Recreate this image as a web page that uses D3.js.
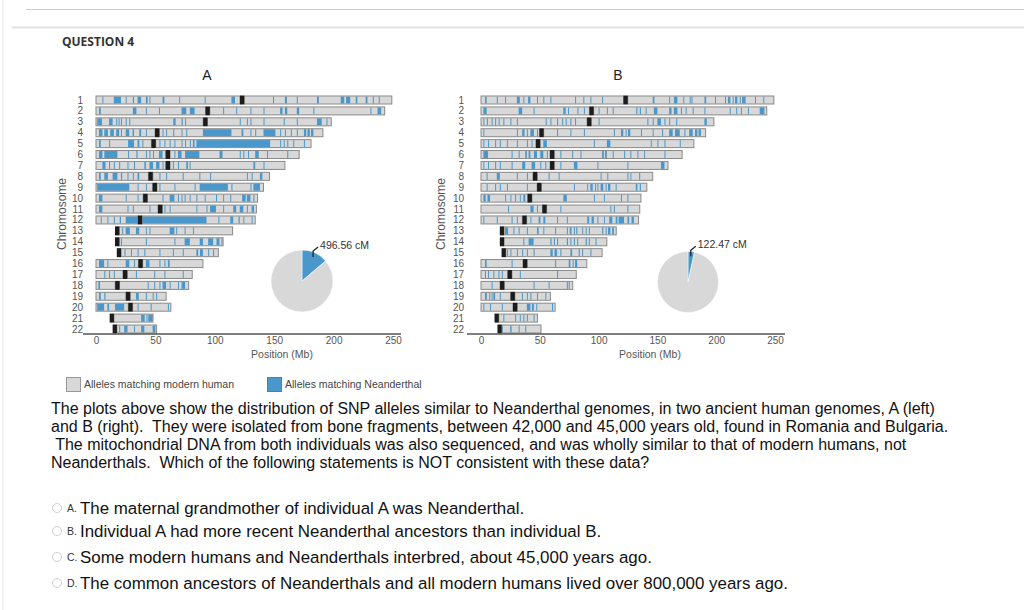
<!DOCTYPE html>
<html>
<head>
<meta charset="utf-8">
<script src="https://cdn.jsdelivr.net/npm/d3@7"></script>
<style>
  body { margin: 0; background: #fff; }
  svg { display: block; font-family: "Liberation Sans", Arial, sans-serif; }
</style>
</head>
<body>
<div id="chart"></div>
<script>
// chromosome layout, in Mb
var chromNames = ["1","2","3","4","5","6","7","8","9","10","11","12","13","14","15","16","17","18","19","20","21","22"];
var chromLengths = [249,243,198,191,181,171,159,146,141,136,135,134,115,107,103,90,81,78,59,63,48,51];
var chromStarts = [0,0,0,0,0,0,0,0,0,0,0,0,16,16,17.5,0,0,0,0,0,11.5,14];
var centromeres = [123,94,92,51.5,48.5,60.5,60.5,46,49.5,41.5,54,37,17.8,17.8,19.3,37.5,24.5,18,27,29,13.3,15.8];

// Neanderthal-matching segments (single number = thin stripe, pair = block)
var segmentsA = [
  [5.4,[15,21],25,[31,32],[35,38],[42,43.5],45,[56,57.6],70,91.5,[114,117],149,[159,160.7],169,[186,187.6],[206,209],[210.5,214],[218.6,220],[227,228.5],233,238],
  [[2.5,4],[31,34],42,53,[72,76],[79,83],107,118,130,141,[155,157],[159,161],[169,171],183,231,[237,240]],
  [[1,5],[11,14],17,19,21,25,28,[65,67],[72,73],75,121,127,130,141,158,169,[186,190],194],
  [[2.5,5.4],[7,10],[12,15],[17,19.5],21,[25,28],[30.8,32],[36.4,38],42,56,59,65,72,76,[90,114],[122.5,124],130,134,[141,151],155,159,164,169,[175,177],[178,180],[181,183]],
  [[2.5,4],11,[27,32],[35,36.5],39,53.4,57.6,62,66,72,75,79,[81.6,83],[84.5,146.6],155,158,161,166,175],
  [[2.5,5.4],[7,18],27,[34,35],42,45,48,[53,56],66,[69,72],[75,87],[104,106.5],121,124,128,[134,137],144,161],
  [[5.4,8],11,15,19.5,26.5,32,[40.7,42],[45,48],[50.6,53.4],56,64.7,69,[76,77.4],78.8,[132.5,134],141],
  [[2.5,4],[7,10],[14,18],[21,22],26.5,31,[35,36.4],53.4,59,73,87,96,127,131,[138,140]],
  [[1,28],35,42,53.4,66,83,[87.3,111],114,130,[132.5,138]],
  [[2.5,5.4],25,35,56,[62,66],69,72,74.6,78.8,84.5,91.5,101,107,113,[123,126],[127,130],132.5],
  [[2.5,5.4],26.5,31,45,57.6,62,84.5,93,[96,101],107,[115.5,118],[121,124],127,[131,133]],
  [4,9.6,15,[20,21],[25,35],[38.7,93],103,[113,115.5],[120,121],124,131],
  [22,[25,28.5],[33.6,36.4],42,45,[62,66],67.5,74.6,81.6],
  [21,42,66,[74.6,79],[87.3,90],[94.4,98.6],[101.4,104],105.6],
  [24,29.4,35,40.7,53.4,64.7,73,[84.5,86],[87.5,90],94.4,98.6],
  [[2.5,6.8],9.6,[25,28],32,[42,45],53.4,57.6,[60.5,62]],
  [7,11,15,33.6,49,57.6,73],
  [[2,3.4],43.5,49,53.4,[56,59],62,69,[72,75]],
  [[2.5,4],[7,8],[33.6,36],42,47.7,50.6],
  [[1,6.8],[9.6,11],[16,23.7],35,46,60.5],
  [[38,41],42.5,[44,47.7]],
  [19.5,[23.7,26.5],32,[38,40.7],[47.7,50]]
];
var segmentsB = [
  [[3.4,4.8],13.4,20.5,[30.5,33],36,[40,42],47.6,53,59,80,87,93,103,[146,147.5],160,[164,167],172,177.5,179,[190,191.5],199,207.5,[210,212],214,[216,218],220,[222,225],233,240],
  [[2,4.8],[32,35],44.7,[70,72],74,82,87.5,100,107,112,[132,133],[135,136],140,[147,150],[160,162],[164,167],170,174,180,190,211.5,217,221,227,[237,241]],
  [2,5,9,12,15,19,25,30.5,55,59,64.7,69,72,76,80,100,141.5,146,[150,153],156,160,166,[190,192]],
  [2,30.5,[35,37],39,[42,45],47.6,64.7,76,87.5,113,[119,121],123,[125,127],136,146,154,[160,163],[165,169],173,[177,180],[182,184],[185,187]],
  [2,6,12,16,22,30.5,39,43,[53,56],96,[107,110],144.4,150,156,169],
  [[2,6],26,32,[37.6,39],[40.5,42],[45,47.6],[50.4,53],56,67.5,77.5,84.6,[103,104.5],[105.5,107],112,121.7,127,133,138.7,156],
  [2,6,12,16,26,[35,37.6],[43,46],50.4,54.7,67.5,[79,82],99,124.5,[153,156]],
  [4.8,[13.4,16],30.5,39,57.5,66,101.7,107.4,124.5,127,134.5],
  [4.8,12,16,22,39,79,90.3,[93,95],97,99,[101.7,104],106,[108,110],114.5,[131.6,133],[135,136]],
  [[2,4],[5.5,7.7],20.5,25,29,33,[36,37.6],[70,73],96,104.5,119,124.5],
  [23,[42,44.7],47.6,67.5,110,113,124.5],
  [2,13.4,26,30.5,42,[49,50.5],[53,54.7],64.7,73,[90.3,92],[94,96],99,104.5,[109,111.7],[114.5,116],[117,121.7],[124.5,126],[128,130]],
  [[20.5,23],27.6,32,39,[47.6,49],53,63,73,[75.5,77],79,[81,82],86,89,91.7,[103,104],106,[108,110],[111.5,113]],
  [36,[40.5,44.7],[59,60],62,64.7,[73,74],76,79,81.8,[89,90],91.7,97.4],
  [22,25,30.5,35,39,44.7,[59,61],[62.5,64.7],67.5,[76,77.5],[83,84],86,93],
  [[3.4,4.8],26,63,[74.6,76],78,[80,81.8]],
  [3.4,6,10.5,14.8,17.7,33,64.7],
  [9,44.7,57.5,73,74.6],
  [[3.4,5],7,9,[10.5,12],16,34.8,39,42,47.6,54.7],
  [2,7.7,17.7,[39,42],[43.3,45],47,60.4],
  [19,29,33,36,39,44.7],
  [17.7,[24.8,26],32,37.6]
];

// genome share in cM: [Neanderthal, modern human]
var pieA = [496.56, 3100];
var pieB = [122.47, 3474];
var pieLabels = ["496.56 cM", "122.47 cM"];

var xTicks = [0, 50, 100, 150, 200, 250];
var legendLabels = ["Alleles matching modern human", "Alleles matching Neanderthal"];
var paragraph = [
  "The plots above show the distribution of SNP alleles similar to Neanderthal genomes, in two ancient human genomes, A (left)",
  "and B (right).  They were isolated from bone fragments, between 42,000 and 45,000 years old, found in Romania and Bulgaria.",
  " The mitochondrial DNA from both individuals was also sequenced, and was wholly similar to that of modern humans, not",
  "Neanderthals.  Which of the following statements is NOT consistent with these data?"
];
var answerLetters = ["A.", "B.", "C.", "D."];
var answers = [
  "The maternal grandmother of individual A was Neanderthal.",
  "Individual A had more recent Neanderthal ancestors than individual B.",
  "Some modern humans and Neanderthals interbred, about 45,000 years ago.",
  "The common ancestors of Neanderthals and all modern humans lived over 800,000 years ago."
];

var blue = "#4a98cb", grey = "#d8d8d8";

var svg = d3.select("#chart").append("svg")
  .attr("width", 1024).attr("height", 610);

// page frame lines
svg.append("line").attr("x1", 3).attr("x2", 3).attr("y1", 0).attr("y2", 610)
  .attr("stroke", "#eee").attr("stroke-width", 1.5);
svg.append("line").attr("x1", 26).attr("x2", 1024).attr("y1", 9.5).attr("y2", 9.5)
  .attr("stroke", "#ccc").attr("stroke-width", 1);
svg.append("line").attr("x1", 12).attr("x2", 1024).attr("y1", 27.5).attr("y2", 27.5)
  .attr("stroke", "#e2e2e2").attr("stroke-width", 2);

svg.append("text").attr("x", 62).attr("y", 46)
  .style("font-family", "'Open Sans', sans-serif").style("font-weight", 700)
  .style("font-size", "12px").attr("fill", "#333").text("QUESTION 4");

var yPos = d3.scalePoint().domain(chromNames).range([100, 329]);
var barH = 8;

function drawPanel(opt) {
  var g = svg.append("g");
  var x = d3.scaleLinear().domain([0, 250]).range(opt.range);

  g.append("text").attr("x", opt.titleX).attr("y", 80).attr("text-anchor", "middle")
    .style("font-size", "14px").attr("fill", "#222").text(opt.title);

  g.append("text")
    .attr("transform", "translate(" + opt.ylabX + ",214) rotate(-90)")
    .attr("text-anchor", "middle").style("font-size", "12px").attr("fill", "#555")
    .text("Chromosome");

  g.selectAll(".num").data(chromNames).enter().append("text")
    .attr("x", opt.numX).attr("y", function(d) { return yPos(d) + 3.5; })
    .attr("text-anchor", "end").style("font-size", "10px").attr("fill", "#555")
    .text(function(d) { return d; });

  var rows = g.selectAll(".chrom").data(chromNames).enter().append("g")
    .attr("transform", function(d) { return "translate(0," + (yPos(d) - barH / 2) + ")"; });

  rows.each(function(name, i) {
    var row = d3.select(this);
    var c0 = centromeres[i] - 1.8, c1 = centromeres[i] + 1.8;
    var arms = [];
    if (c0 - chromStarts[i] > 1) arms.push([chromStarts[i], c0]);
    arms.push([c1, chromLengths[i]]);
    row.selectAll(".arm").data(arms).enter().append("rect")
      .attr("x", function(a) { return x(a[0]); })
      .attr("width", function(a) { return x(a[1]) - x(a[0]); })
      .attr("y", 0).attr("height", barH).attr("fill", grey);
    var segs = opt.segs[i].map(function(s) { return typeof s === "number" ? [s, s + 0.7] : s; });
    row.selectAll(".seg").data(segs).enter().append("rect")
      .attr("x", function(s) { return x(s[0]); })
      .attr("width", function(s) { return Math.max(1, x(s[1]) - x(s[0])); })
      .attr("y", 0.5).attr("height", barH - 1).attr("fill", blue);
    row.selectAll(".armline").data(arms).enter().append("rect")
      .attr("x", function(a) { return x(a[0]); })
      .attr("width", function(a) { return x(a[1]) - x(a[0]); })
      .attr("y", 0).attr("height", barH).attr("fill", "none")
      .attr("stroke", "#8a8a8a").attr("stroke-width", 1);
    row.append("rect").attr("x", x(c0)).attr("width", x(c1) - x(c0))
      .attr("y", -0.5).attr("height", barH + 1).attr("fill", "#1c1c1c");
  });

  // x axis
  g.append("line").attr("x1", opt.axisFrom).attr("x2", opt.axisTo)
    .attr("y1", 334).attr("y2", 334).attr("stroke", "#555").attr("stroke-width", 1.4);
  var axis = g.append("g").attr("transform", "translate(0,334)")
    .call(d3.axisBottom(x).tickValues(xTicks).tickSize(0).tickPadding(3));
  axis.select(".domain").remove();
  axis.selectAll("text").style("font-size", "10px").attr("fill", "#555")
    .style("font-family", "'Liberation Sans', Arial, sans-serif");
  g.append("text").attr("x", opt.xlabX).attr("y", 358).attr("text-anchor", "middle")
    .style("font-size", "10.5px").attr("fill", "#555").text("Position (Mb)");

  // pie of genome share
  var pie = d3.pie().sort(null)(opt.pie);
  var arc = d3.arc().innerRadius(0).outerRadius(opt.r);
  var pg = g.append("g").attr("transform", "translate(" + opt.cx + "," + opt.cy + ")");
  pg.selectAll("path").data(pie).enter().append("path")
    .attr("d", arc).attr("fill", function(d, i) { return i === 0 ? blue : grey; })
    .attr("stroke", "#fff").attr("stroke-width", 0.5);
  var mid = (pie[0].startAngle + pie[0].endAngle) / 2;
  var sx = Math.sin(mid) * opt.r * 0.85, sy = -Math.cos(mid) * opt.r * 0.85;
  pg.append("path")
    .attr("d", "M" + sx + "," + sy + "L" + sx + "," + (sy - 6) + "L" + (sx + 5) + "," + (sy - 10))
    .attr("fill", "none").attr("stroke", "#222").attr("stroke-width", 1.3);
  pg.append("text").attr("x", sx + 7).attr("y", sy - 8)
    .style("font-size", "10.5px").attr("fill", "#333").text(opt.pieLabel);
}

drawPanel({ title: "A", titleX: 207, range: [96, 393], segs: segmentsA, ylabX: 66, numX: 83,
  axisFrom: 83, axisTo: 401, xlabX: 282, pie: pieA, pieLabel: pieLabels[0], cx: 302, cy: 281, r: 31 });
drawPanel({ title: "B", titleX: 618, range: [481, 775], segs: segmentsB, ylabX: 445, numX: 464,
  axisFrom: 467, axisTo: 785, xlabX: 650, pie: pieB, pieLabel: pieLabels[1], cx: 688, cy: 282, r: 30.5 });

// legend
var legend = svg.append("g");
[[66, grey, "#999"], [267, blue, "#3d86b8"]].forEach(function(l, i) {
  legend.append("rect").attr("x", l[0] + 0.5).attr("y", 377.5).attr("width", 14).attr("height", 14)
    .attr("fill", l[1]).attr("stroke", l[2]);
  legend.append("text").attr("x", l[0] + 18).attr("y", 388)
    .style("font-size", "10.5px").attr("fill", "#444").text(legendLabels[i]);
});

// question text
svg.selectAll(".para").data(paragraph).enter().append("text")
  .attr("x", 51).attr("y", function(d, i) { return 414 + i * 18; })
  .attr("xml:space", "preserve")
  .style("font-size", "16px").attr("fill", "#111").text(function(d) { return d; });

var choiceY = [508, 531, 557, 583];
var choices = svg.selectAll(".choice").data(answers).enter().append("g");
choices.append("circle").attr("cx", 57).attr("cy", function(d, i) { return choiceY[i]; })
  .attr("r", 4.5).attr("fill", "#fff").attr("stroke", "#cfcfcf");
choices.append("text").attr("x", 67).attr("y", function(d, i) { return choiceY[i] + 4; })
  .style("font-size", "10.5px").attr("fill", "#333").text(function(d, i) { return answerLetters[i]; });
choices.append("text").attr("x", 80).attr("y", function(d, i) { return choiceY[i] + 6; })
  .style("font-size", "16.9px").attr("fill", "#111").text(function(d) { return d; });
</script>
</body>
</html>
